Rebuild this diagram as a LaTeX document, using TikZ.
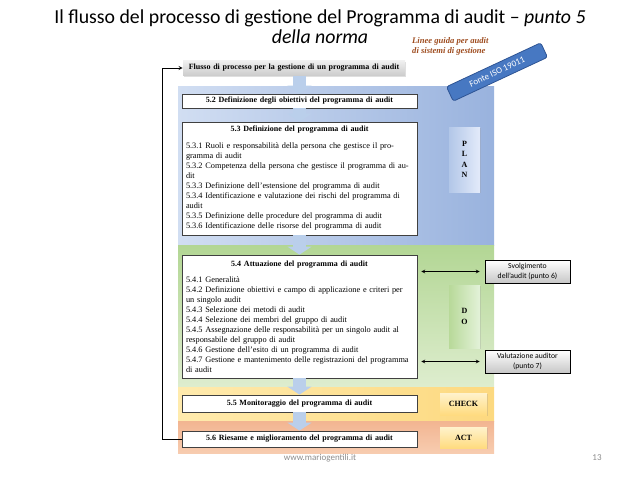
\documentclass[tikz,border=0pt]{standalone}
\usepackage{fontspec}
\setmainfont{Liberation Serif}
\newfontfamily\calibri{Carlito}
\usetikzlibrary{arrows.meta,shadows}

\newlength{\du}
\setlength{\du}{1pt}

\definecolor{boxgray}{rgb}{0.250000, 0.250000, 0.250000}
\definecolor{notegray}{rgb}{0.780000, 0.780000, 0.780000}
\definecolor{arrowblue}{rgb}{0.730000, 0.810000, 0.920000}
\definecolor{footgray}{rgb}{0.550000, 0.550000, 0.550000}
\definecolor{guidebrown}{rgb}{0.620000, 0.300000, 0.120000}

\tikzset{
  whitebox/.style={draw=boxgray, fill=white, line width=0.8\du, text width=227\du,
    inner xsep=4\du, inner ysep=0pt, align=left, font=\fontsize{8.3}{10}\selectfont},
  headbox/.style={whitebox, align=center, font=\fontsize{8}{9.9}\selectfont\bfseries},
  phasebox/.style={inner sep=0pt, align=center, font=\fontsize{8}{10.5}\selectfont\bfseries,
    drop shadow={opacity=0.25, shadow xshift=1.2\du, shadow yshift=-1.2\du}},
  notebox/.style={draw=black, line width=0.8\du, top color=white, bottom color=notegray,
    minimum width=85\du, minimum height=23\du, inner sep=0pt, align=center,
    font=\calibri\fontsize{7.7}{10}\selectfont},
  flowarrow/.style={draw=arrowblue, line width=13\du, -{Triangle[width=24pt,length=8pt]}},
  sidearrow/.style={stealth-stealth, line width=0.7\du},
}

\begin{document}
\begin{tikzpicture}[x=1\du,y=-1\du]
\useasboundingbox (0,0) rectangle (638,479);

% title
\node[font=\calibri\fontsize{19.8}{20}\selectfont, align=center] (title) at (320,26.5)
  {Il flusso del processo di gestione del Programma di audit – \emph{punto 5}\\\emph{della norma}};

% bands
\shade[left color={rgb,1:red,0.82;green,0.87;blue,0.95}, right color={rgb,1:red,0.60;green,0.70;blue,0.87}]
  (178,86) rectangle (494,245);
\shade[top color={rgb,1:red,0.70;green,0.84;blue,0.58}, bottom color={rgb,1:red,0.87;green,0.93;blue,0.81}]
  (178,245) rectangle (494,387);
\shade[left color={rgb,1:red,1.00;green,0.92;blue,0.68}, right color={rgb,1:red,0.99;green,0.85;blue,0.50}]
  (178,387) rectangle (494,421);
\shade[top color={rgb,1:red,0.95;green,0.71;blue,0.57}, bottom color={rgb,1:red,0.97;green,0.80;blue,0.69}]
  (178,421) rectangle (494,453);

% process boxes
\node[headbox, draw=none, text width=214\du, top color={rgb,1:red,0.94;green,0.94;blue,0.94}, bottom color={rgb,1:red,0.80;green,0.80;blue,0.80},
  minimum height=15\du, drop shadow={opacity=0.25, shadow xshift=1.2\du, shadow yshift=-1.2\du}] (flusso) at (294,68)
  {Flusso di processo per la gestione di un programma di audit};
\node[headbox, minimum height=14\du] (d52) at (299.5,101) {5.2 Definizione degli obiettivi del programma di audit};
\node[whitebox, minimum height=113\du] (d53) at (299.5,178.5) {%
  \makebox[227\du][c]{\fontsize{8}{9.9}\selectfont\bfseries 5.3 Definizione del programma di audit}\\[7\du]
  5.3.1 Ruoli e responsabilità della persona che gestisce il pro-\\
  gramma di audit\\
  5.3.2 Competenza della persona che gestisce il programma di au-\\
  dit\\
  5.3.3 Definizione dell’estensione del programma di audit\\
  5.3.4 Identificazione e valutazione dei rischi del programma di\\
  audit\\
  5.3.5 Definizione delle procedure del programma di audit\\
  5.3.6 Identificazione delle risorse del programma di audit};
\node[whitebox, minimum height=123\du] (d54) at (299.5,316.5) {%
  \makebox[227\du][c]{\fontsize{8}{9.9}\selectfont\bfseries 5.4 Attuazione del programma di audit}\\[6\du]
  5.4.1 Generalità\\
  5.4.2 Definizione obiettivi e campo di applicazione e criteri per\\
  un singolo audit\\
  5.4.3 Selezione dei metodi di audit\\
  5.4.4 Selezione dei membri del gruppo di audit\\
  5.4.5 Assegnazione delle responsabilità per un singolo audit al\\
  responsabile del gruppo di audit\\
  5.4.6 Gestione dell’esito di un programma di audit\\
  5.4.7 Gestione e mantenimento delle registrazioni del programma\\
  di audit};
\node[headbox, minimum height=17\du] (d55) at (299.5,403.5) {5.5 Monitoraggio del programma di audit};
\node[headbox, minimum height=16\du] (d56) at (299.5,439) {5.6 Riesame e miglioramento del programma di audit};

% PDCA labels
\node[phasebox, left color={rgb,1:red,0.70;green,0.78;blue,0.91}, right color={rgb,1:red,0.89;green,0.92;blue,0.98},
  minimum width=31\du, minimum height=65\du] (plan) at (464.5,159.5) {P\\L\\A\\N};
\node[phasebox, left color={rgb,1:red,0.72;green,0.85;blue,0.60}, right color={rgb,1:red,0.89;green,0.95;blue,0.85},
  minimum width=31\du, minimum height=63\du] (do) at (464.5,316.5) {D\\O};
\node[phasebox, top color={rgb,1:red,1.00;green,0.95;blue,0.80}, bottom color={rgb,1:red,1.00;green,0.86;blue,0.50},
  minimum width=47\du, minimum height=22\du] (check) at (463.5,404) {CHECK};
\node[phasebox, top color={rgb,1:red,1.00;green,0.95;blue,0.80}, bottom color={rgb,1:red,1.00;green,0.86;blue,0.50},
  minimum width=47\du, minimum height=21\du] (act) at (463.5,437.5) {ACT};

% flow
\draw[flowarrow] (flusso.south -| d52.north) -- (d52.north);
\draw[flowarrow] (d52.south) -- (d53.north);
\draw[flowarrow] (d53.south) -- (d54.north);
\draw[flowarrow] (d54.south) -- (d55.north);
\draw[flowarrow] (d55.south) -- (d56.north);

% back to start
\draw[-stealth, line width=0.8\du] (d56.west) -- ++(-19,0) |- (flusso.west);

% side notes
\node[notebox] (svolg) at (527.5,271.5) {Svolgimento\\dell’audit (punto 6)};
\node[notebox] (valut) at (527.5,361.5) {Valutazione auditor\\(punto 7)};
\draw[sidearrow, shorten <=4\du, shorten >=5\du] (d54.east |- svolg.west) -- (svolg.west);
\draw[sidearrow, shorten <=4\du, shorten >=5\du] (d54.east |- valut.west) -- (valut.west);

% source
\node[anchor=west, align=left, inner sep=0pt, text=guidebrown, font=\fontsize{8.6}{10}\selectfont\bfseries\itshape] (guida) at (412,46)
  {Linee guida per audit\\di sistemi di gestione};
\node[rotate=25, fill={rgb,1:red,0.28;green,0.47;blue,0.76}, draw={rgb,1:red,0.18;green,0.33;blue,0.58}, line width=0.8\du,
  rounded corners=2.5\du, minimum width=104\du, minimum height=16\du, inner sep=1pt, text=white,
  font=\calibri\fontsize{9}{10}\selectfont] (fonte) at (497,72) {Fonte ISO 19011};

% footer
\node[text=footgray, font=\calibri\fontsize{9}{11}\selectfont] (sito) at (320,458) {www.mariogentili.it};
\node[text=footgray, font=\calibri\fontsize{9}{11}\selectfont] (pagina) at (597,458) {13};
\end{tikzpicture}
\end{document}
